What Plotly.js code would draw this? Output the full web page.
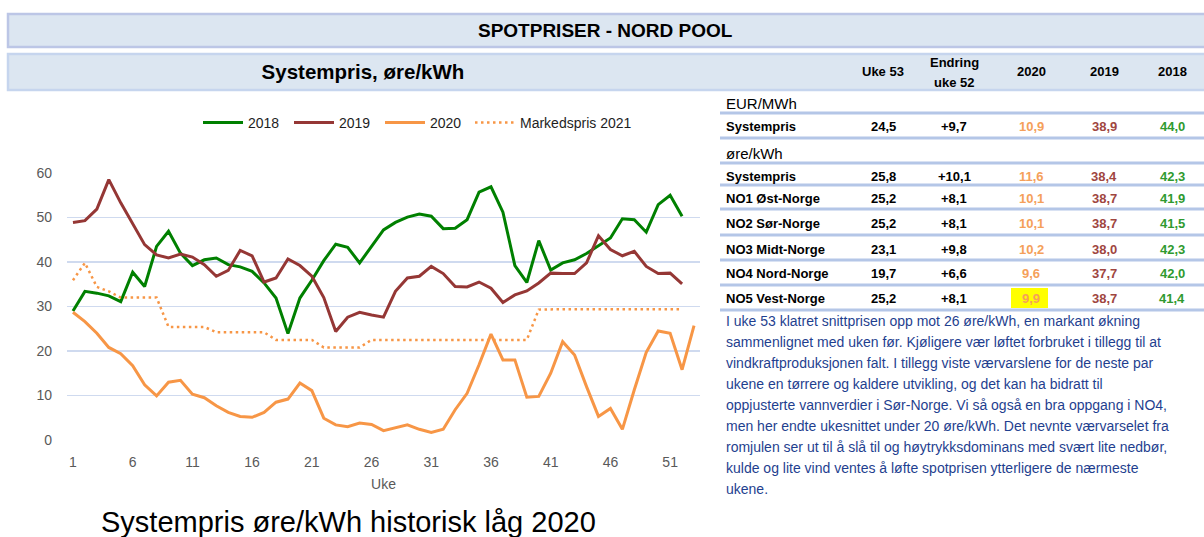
<!DOCTYPE html>
<html>
<head>
<meta charset="utf-8">
<script src="https://cdn.plot.ly/plotly-3.0.1.min.js"></script>
<style>html,body{margin:0;padding:0;background:#fff;}#chart{width:1204px;height:537px;}</style>
</head>
<body>
<div id="chart"></div>
<script>
// ---------- DATA ----------
const weeks = [1,2,3,4,5,6,7,8,9,10,11,12,13,14,15,16,17,18,19,20,21,22,23,24,25,26,27,28,29,30,31,32,33,34,35,36,37,38,39,40,41,42,43,44,45,46,47,48,49,50,51,52,53];
const price2018 = [29.0,33.4,33.0,32.4,31.1,37.7,34.5,43.5,46.9,42.0,39.2,40.5,40.9,39.4,38.9,37.9,35.3,31.9,23.9,31.9,35.9,40.3,44.0,43.3,39.8,43.6,47.2,48.9,50.1,50.8,50.3,47.5,47.6,49.5,55.7,56.9,51.2,39.2,35.4,44.8,38.2,39.8,40.5,41.9,43.7,45.4,49.7,49.5,46.7,52.9,55.0,50.3];
const price2019 = [48.9,49.3,51.9,58.5,53.3,48.6,43.9,41.6,40.9,41.8,41.1,39.4,36.8,38.1,42.6,41.4,35.5,36.4,40.7,39.2,36.8,32.0,24.4,27.6,28.7,28.1,27.6,33.4,36.4,36.8,39.0,37.4,34.5,34.4,35.5,34.1,30.9,32.6,33.5,35.3,37.5,37.4,37.4,39.8,45.9,42.8,41.4,42.4,39.0,37.4,37.5,35.1];
const price2020 = [28.7,26.6,24.0,20.8,19.4,16.7,12.4,9.9,13.0,13.4,10.3,9.5,7.7,6.2,5.3,5.1,6.2,8.5,9.2,12.8,11.1,4.9,3.4,3.0,3.8,3.5,2.1,2.8,3.4,2.4,1.7,2.4,6.8,10.5,16.9,23.8,18.0,18.0,9.6,9.8,15.0,22.1,19.1,12.0,5.3,7.1,2.4,11.3,19.7,24.5,24.0,15.8,25.7];
const market2021 = [35.9,39.8,34.4,33.4,32.0,32.0,32.0,32.0,25.4,25.4,25.4,25.4,24.2,24.2,24.2,24.2,24.2,22.5,22.5,22.5,22.5,20.8,20.8,20.8,20.8,22.5,22.5,22.5,22.5,22.5,22.5,22.5,22.5,22.5,22.5,22.5,22.5,22.5,22.5,29.3,29.4,29.4,29.4,29.4,29.4,29.4,29.4,29.4,29.4,29.4,29.4,29.4];
const seriesNames = ['2018','2019','2020','Markedspris 2021'];
const xTickVals = [1,6,11,16,21,26,31,36,41,46,51];
const xTickLabels = ['1','6','11','16','21','26','31','36','41','46','51'];
const yTickVals = [0,10,20,30,40,50,60];

const tableHeader = ['Uke 53','Endring|uke 52','2020','2019','2018'];
const tableSections = ['EUR/MWh','øre/kWh'];
const rowLabels = ['Systempris','Systempris','NO1 Øst-Norge','NO2 Sør-Norge','NO3 Midt-Norge','NO4 Nord-Norge','NO5 Vest-Norge'];
const colUke53 = ['24,5','25,8','25,2','25,2','23,1','19,7','25,2'];
const colEndring = ['+9,7','+10,1','+8,1','+8,1','+9,8','+6,6','+8,1'];
const col2020 = ['10,9','11,6','10,1','10,1','10,2','9,6','9,9'];
const col2019 = ['38,9','38,4','38,7','38,7','38,0','37,7','38,7'];
const col2018 = ['44,0','42,3','41,9','41,5','42,3','42,0','41,4'];

const commentLines = [
 'I uke 53 klatret snittprisen opp mot 26 øre/kWh, en markant økning',
 'sammenlignet med uken før. Kjøligere vær løftet forbruket i tillegg til at',
 'vindkraftproduksjonen falt. I tillegg viste værvarslene for de neste par',
 'ukene en tørrere og kaldere utvikling, og det kan ha bidratt til',
 'oppjusterte vannverdier i Sør-Norge. Vi så også en bra oppgang i NO4,',
 'men her endte ukesnittet under 20 øre/kWh. Det nevnte værvarselet fra',
 'romjulen ser ut til å slå til og høytrykksdominans med svært lite nedbør,',
 'kulde og lite vind ventes å løfte spotprisen ytterligere de nærmeste',
 'ukene.'
];

// ---------- LAYOUT HELPERS ----------
const W = 1204, H = 537;
const ML = 67, MR = 504, MT = 173, MB = 97;
const PW = W - ML - MR, PH = H - MT - MB;
const X = px => (px - ML) / PW;
const Y = py => (H - MB - py) / PH;
const FONT = 'Liberation Sans, Arial, sans-serif';

const C2018 = '#008000', C2019 = '#953735', C2020 = '#f79646';

const traces = [
  {x: weeks.slice(0, price2018.length), y: price2018, name: seriesNames[0], mode: 'lines', line: {color: C2018, width: 3}},
  {x: weeks.slice(0, price2019.length), y: price2019, name: seriesNames[1], mode: 'lines', line: {color: C2019, width: 3}},
  {x: weeks.slice(0, price2020.length), y: price2020, name: seriesNames[2], mode: 'lines', line: {color: C2020, width: 3}},
  {x: weeks.slice(0, market2021.length), y: market2021, name: seriesNames[3], mode: 'lines', legend: 'legend2',
   line: {color: C2020, width: 2.5, dash: '2.5px,3.5px'}}
];

const shapes = [];
const annotations = [];
function txt(text, px, py, opts) {
  opts = opts || {};
  annotations.push({
    text: text, xref: 'paper', yref: 'paper', x: X(px), y: Y(py),
    xanchor: opts.xanchor || 'center', yanchor: 'middle', showarrow: false,
    font: {family: opts.family || FONT, size: opts.size || 13, color: opts.color || '#000'}
  });
}
function rect(x0, y0, x1, y1, fill, lineColor, lw) {
  shapes.push({type: 'rect', xref: 'paper', yref: 'paper', x0: X(x0), x1: X(x1), y0: Y(y0), y1: Y(y1),
    fillcolor: fill, line: {color: lineColor || fill, width: lw || 0}, layer: 'below'});
}
function hline(x0, x1, py, color, lw) {
  shapes.push({type: 'line', xref: 'paper', yref: 'paper', x0: X(x0), x1: X(x1), y0: Y(py), y1: Y(py),
    line: {color: color, width: lw}, layer: 'below'});
}

// banners
rect(8, 14, 1206, 47, '#dce6f1', '#bcc6e6', 2.5);
rect(8, 54, 1206, 90, '#dce6f1', '#c6d5ee', 2.5);
txt('<b>SPOTPRISER - NORD POOL</b>', 605, 30, {size: 19});

// table header
const headerX = [883, 954, 1031, 1104, 1172];
tableHeader.forEach((h, i) => {
  const parts = h.split('|');
  if (parts.length === 2) {
    txt('<b>' + parts[0] + '</b>', headerX[i], 62, {size: 13});
    txt('<b>' + parts[1] + '</b>', headerX[i], 82, {size: 13});
  } else {
    txt('<b>' + h + '</b>', headerX[i], 72, {size: 13});
  }
});

// table body
const sepY = [113, 138, 163, 185, 209, 235, 260, 285, 310];
sepY.forEach(y => hline(720, 1204, y, '#b4c6e7', 3));
rect(1011, 288, 1048, 308, '#ffff00');
txt(tableSections[0], 724, 103, {xanchor: 'left', size: 15});
txt(tableSections[1], 724, 153, {xanchor: 'left', size: 15});
const rowY = [126, 176, 198, 223, 249, 273, 298];
rowLabels.forEach((lab, i) => {
  const y = rowY[i];
  txt('<b>' + lab + '</b>', 724, y, {xanchor: 'left', size: 13});
  txt('<b>' + colUke53[i] + '</b>', headerX[0], y, {size: 13});
  txt('<b>' + colEndring[i] + '</b>', headerX[1], y, {size: 13});
  txt('<b>' + col2020[i] + '</b>', headerX[2], y, {size: 13, color: '#f5a05a'});
  txt('<b>' + col2019[i] + '</b>', headerX[3], y, {size: 13, color: '#a0463f'});
  txt('<b>' + col2018[i] + '</b>', headerX[4], y, {size: 13, color: '#2f9a2f'});
});

// commentary
commentLines.forEach((line, i) => {
  txt(line, 724, 321 + 21 * i, {xanchor: 'left', size: 14, color: '#1f3f8f'});
});

// caption
txt('Systempris øre/kWh historisk låg 2020', 348, 522, {size: 29, color: '#000'});

const legendFont = {family: FONT, size: 14, color: '#1e1e1e'};
const layout = {
  width: W, height: H,
  margin: {l: ML, r: MR, t: MT, b: MB, pad: 0},
  paper_bgcolor: '#ffffff', plot_bgcolor: '#ffffff',
  font: {family: FONT, color: '#595959'},
  title: {text: '<b>Systempris, øre/kWh</b>', x: 363 / W, y: 1 - 72 / H, xanchor: 'center', yanchor: 'middle',
          xref: 'container', yref: 'container', font: {family: FONT, size: 20.5, color: '#000'}},
  showlegend: true,
  legend: {orientation: 'h', x: X(198), y: Y(123), xanchor: 'left', yanchor: 'middle',
           font: legendFont, bgcolor: 'rgba(0,0,0,0)',
           entrywidth: 36, entrywidthmode: 'pixels', itemwidth: 40},
  legend2: {orientation: 'h', x: X(470), y: Y(123), xanchor: 'left', yanchor: 'middle',
           font: legendFont, bgcolor: 'rgba(0,0,0,0)', itemwidth: 40},
  xaxis: {range: [0.5, 53.5], tickmode: 'array', tickvals: xTickVals, ticktext: xTickLabels,
          showgrid: false, zeroline: false, showline: false, ticks: '', ticklabelstandoff: 12,
          tickfont: {family: FONT, size: 14, color: '#595959'},
          title: {text: 'Uke', font: {family: FONT, size: 14, color: '#595959'}, standoff: 10},
          automargin: false, fixedrange: true},
  yaxis: {range: [0, 60], tickmode: 'array', tickvals: yTickVals, showgrid: true, gridcolor: '#cfdaef', gridwidth: 1.3,
          zeroline: false, showline: false, ticks: '', ticklabelstandoff: 14,
          tickfont: {family: FONT, size: 14, color: '#595959'}, automargin: false, fixedrange: true},
  shapes: shapes,
  annotations: annotations
};

Plotly.newPlot('chart', traces, layout, {staticPlot: true, displayModeBar: false});
</script>
</body>
</html>
